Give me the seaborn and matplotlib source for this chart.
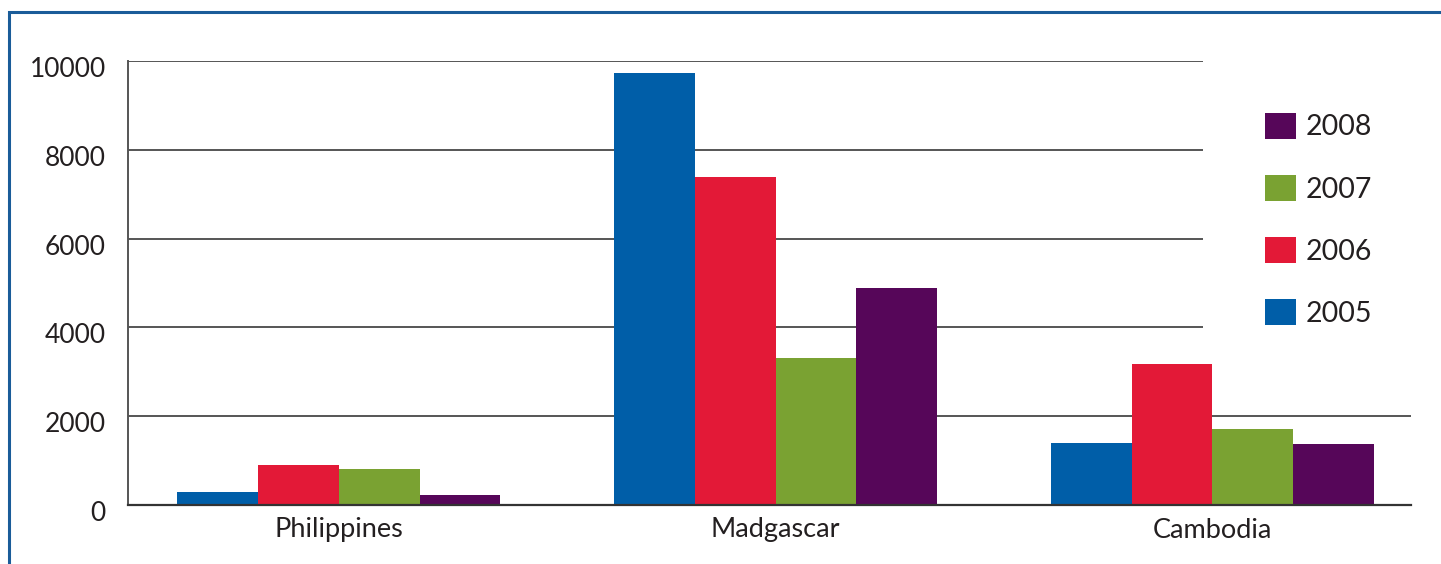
import matplotlib
matplotlib.use("Agg")
import matplotlib.pyplot as plt
import matplotlib.transforms as mtransforms
from matplotlib.patches import Rectangle
import seaborn as sns
import pandas as pd

# values
countries = ["Philippines", "Madgascar", "Cambodia"]
years = ["2005", "2006", "2007", "2008"]
values_2005 = [290, 9730, 1400]
values_2006 = [900, 7390, 3180]
values_2007 = [810, 3310, 1710]
values_2008 = [230, 4890, 1370]
y_ticks = [0, 2000, 4000, 6000, 8000, 10000]

colors = {"2005": "#005EA8", "2006": "#E31937", "2007": "#7AA232", "2008": "#560659"}

rows = []
for year, vals in zip(years, [values_2005, values_2006, values_2007, values_2008]):
    for country, v in zip(countries, vals):
        rows.append({"country": country, "year": year, "value": v})
df = pd.DataFrame(rows)

sns.set_theme(style="white")
plt.rcParams["font.family"] = ["Lato", "DejaVu Sans"]
text_color = "#231f20"

fig = plt.figure(figsize=(14.41, 5.64), dpi=100)
ax = fig.add_axes([128 / 1441, 1 - 505 / 564, (1411 - 128) / 1441, (505 - 61) / 564])

sns.barplot(data=df, x="country", y="value", hue="year", order=countries,
            hue_order=years, palette=colors, width=0.74, saturation=1,
            gap=0, linewidth=0, ax=ax, zorder=2)

ax.set_xlim(-0.483, 2.455)
ax.set_ylim(0, 10000)
ax.set_yticks(y_ticks)
ax.set_yticklabels([str(t) for t in y_ticks])
ax.set_xlabel("")
ax.set_ylabel("")
ax.tick_params(axis="both", length=0, labelsize=19, colors=text_color)
ax.tick_params(axis="x", labelsize=19.5, pad=9)
ax.tick_params(axis="y", pad=16)

# y labels sit a little below their gridlines in the original
shift = mtransforms.ScaledTranslation(0, -6 / 100, fig.dpi_scale_trans)
for lbl in ax.get_yticklabels():
    lbl.set_transform(lbl.get_transform() + shift)

ax.set_axisbelow(True)
ax.yaxis.grid(True, color="#555555", linewidth=1.4)
ax.xaxis.grid(False)
for side in ["top", "right"]:
    ax.spines[side].set_visible(False)
ax.spines["left"].set_color("#555555")
ax.spines["left"].set_linewidth(1.4)
ax.spines["bottom"].set_color("#333333")
ax.spines["bottom"].set_linewidth(1.6)

# white panel behind the legend hides the upper gridlines on the right
ax.add_patch(Rectangle((0.838, 0.37), 0.3, 0.8, transform=ax.transAxes,
                       facecolor="white", edgecolor="none", zorder=1,
                       clip_on=False))

handles, labels = ax.get_legend_handles_labels()
leg = ax.legend(handles[::-1], labels[::-1], loc="upper left",
                bbox_to_anchor=(0.886, 0.884), frameon=False, fontsize=20.5,
                handlelength=1.1, handleheight=1.05, handletextpad=0.35,
                labelspacing=1.2, borderpad=0, borderaxespad=0)
for t in leg.get_texts():
    t.set_color(text_color)

# blue frame around the figure (top and left edges visible)
top = 1 - 12 / 564
fig.add_artist(Rectangle((9 / 1441, -0.1), 1.2, top + 0.1,
                         transform=fig.transFigure, fill=False,
                         edgecolor="#1a5c99", linewidth=2.2))

fig.savefig("out.png", dpi=100)
